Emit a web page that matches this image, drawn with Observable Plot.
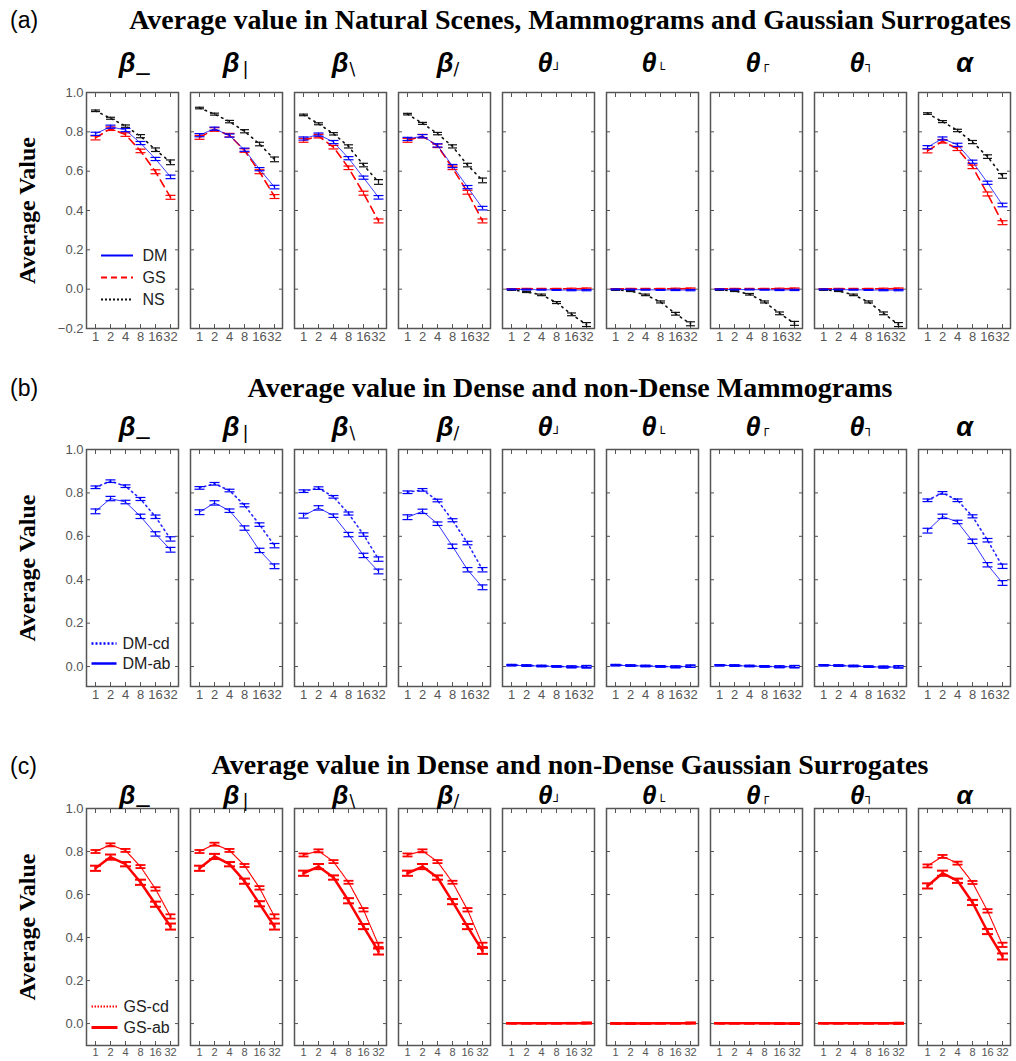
<!DOCTYPE html>
<html><head><meta charset="utf-8">
<script src="https://cdn.jsdelivr.net/npm/d3@7"></script>
<script src="https://cdn.jsdelivr.net/npm/@observablehq/plot@0.6"></script>
<style>
body{margin:0;background:#fff;}
#wrap{position:relative;width:1016px;height:1061px;overflow:hidden;background:#fff;}
.tag{position:absolute;left:10px;font-family:"Liberation Sans",Arial,sans-serif;font-size:23px;line-height:30px;color:#000;}
.ttl{position:absolute;left:0;width:1140px;text-align:center;font-family:"Liberation Serif","Times New Roman",serif;font-weight:bold;font-size:28px;line-height:30px;color:#000;white-space:nowrap;}
.plot{position:absolute;left:0;}
.plot g[aria-label="x-axis tick label"], .plot g[aria-label="y-axis tick label"]{font-size:13px;}
.secC g[aria-label="x-axis tick label"]{font-size:11px;}
</style></head><body><div id="wrap"></div>
<script>
// ---------------- data ----------------
const scaleLabels = ["1","2","4","8","16","32"];
const paramKeys = ["b_","b|","b\\","b/","t1","t2","t3","t4","a"];
const greek = ["β","β","β","β","θ","θ","θ","θ","α"];
const subs = ["_","|","\\","/","┘","└","┌","┐",""];
const isTheta = [false,false,false,false,true,true,true,true,false];

// (a) Natural scenes (NS), mammograms (DM), Gaussian surrogates (GS)
const nsA = [
  [0.907,0.869,0.829,0.778,0.709,0.645],
  [0.921,0.890,0.852,0.803,0.738,0.660],
  [0.886,0.841,0.790,0.726,0.631,0.545],
  [0.890,0.843,0.791,0.726,0.631,0.553],
  [-0.003,-0.014,-0.029,-0.068,-0.128,-0.180],
  [-0.003,-0.009,-0.029,-0.065,-0.125,-0.176],
  [-0.003,-0.009,-0.026,-0.065,-0.123,-0.174],
  [-0.003,-0.009,-0.029,-0.065,-0.123,-0.180],
  [0.893,0.852,0.807,0.748,0.674,0.576]
];
const dmA = [
  [0.790,0.826,0.809,0.743,0.662,0.571],
  [0.783,0.816,0.781,0.709,0.610,0.519],
  [0.766,0.786,0.748,0.666,0.567,0.467],
  [0.764,0.778,0.731,0.626,0.519,0.412],
  [-0.001,-0.002,-0.003,-0.004,-0.005,-0.005],
  [-0.001,-0.002,-0.003,-0.004,-0.004,-0.005],
  [-0.001,-0.002,-0.002,-0.003,-0.004,-0.004],
  [-0.001,-0.002,-0.003,-0.004,-0.005,-0.005],
  [0.722,0.766,0.734,0.648,0.541,0.428]
];
const gsA = [
  [0.769,0.816,0.786,0.703,0.597,0.467],
  [0.772,0.812,0.783,0.705,0.597,0.471],
  [0.757,0.778,0.722,0.617,0.488,0.347],
  [0.757,0.778,0.729,0.617,0.493,0.347],
  [0.001,0.002,0.002,0.002,0.002,0.003],
  [0.001,0.002,0.002,0.002,0.002,0.003],
  [0.001,0.002,0.002,0.002,0.002,0.003],
  [0.001,0.002,0.002,0.002,0.002,0.003],
  [0.703,0.752,0.714,0.622,0.484,0.338]
];
const nsErrA = [0.004,0.005,0.006,0.008,0.009,0.012];
const dmErrA = [0.008,0.008,0.008,0.008,0.008,0.009];
const gsErrA = [0.010,0.009,0.009,0.009,0.010,0.010];
const nsErrThA = [0.003,0.003,0.004,0.005,0.007,0.010];
const dmErrThA = [0.002,0.002,0.002,0.002,0.003,0.003];
const gsErrThA = [0.002,0.002,0.002,0.002,0.003,0.003];

// (b) Dense (cd) vs non-dense (ab) mammograms
const dmCdB = [
  [0.826,0.854,0.831,0.772,0.690,0.588],
  [0.823,0.842,0.811,0.743,0.654,0.557],
  [0.808,0.822,0.782,0.705,0.608,0.495],
  [0.803,0.814,0.765,0.674,0.569,0.446],
  [0.007,0.005,0.003,0.001,-0.001,0.000],
  [0.007,0.005,0.003,0.001,-0.001,0.002],
  [0.006,0.005,0.003,0.001,-0.001,0.000],
  [0.006,0.005,0.003,0.000,-0.002,-0.001],
  [0.766,0.800,0.766,0.692,0.582,0.462]
];
const dmAbB = [
  [0.715,0.774,0.758,0.692,0.611,0.538],
  [0.711,0.754,0.718,0.638,0.535,0.462],
  [0.695,0.731,0.695,0.608,0.512,0.438],
  [0.688,0.715,0.658,0.554,0.446,0.365],
  [0.006,0.004,0.002,0.000,-0.002,-0.002],
  [0.006,0.004,0.002,0.000,-0.002,0.001],
  [0.006,0.004,0.002,0.000,-0.001,-0.001],
  [0.006,0.004,0.002,-0.001,-0.003,-0.002],
  [0.626,0.692,0.666,0.577,0.469,0.385]
];
const cdErrB = [0.006,0.006,0.006,0.007,0.008,0.010];
const abErrB = [0.011,0.010,0.008,0.010,0.010,0.011];
const cdErrThB = [0.003,0.003,0.003,0.003,0.004,0.005];
const abErrThB = [0.003,0.003,0.003,0.003,0.004,0.005];

// (c) Dense (cd) vs non-dense (ab) Gaussian surrogates
const gsCdC = [
  [0.800,0.831,0.805,0.730,0.626,0.498],
  [0.800,0.834,0.805,0.735,0.631,0.498],
  [0.784,0.803,0.753,0.657,0.529,0.366],
  [0.784,0.803,0.753,0.657,0.529,0.366],
  [0.002,0.002,0.002,0.002,0.002,0.003],
  [0.002,0.002,0.002,0.002,0.002,0.003],
  [0.002,0.002,0.002,0.002,0.001,0.001],
  [0.002,0.002,0.002,0.002,0.002,0.002],
  [0.733,0.777,0.746,0.656,0.524,0.366]
];
const gsAbC = [
  [0.722,0.774,0.741,0.657,0.555,0.451],
  [0.722,0.777,0.741,0.662,0.557,0.451],
  [0.699,0.730,0.679,0.571,0.451,0.335],
  [0.699,0.730,0.679,0.567,0.451,0.338],
  [0.001,0.001,0.001,0.001,0.002,0.002],
  [0.000,0.000,0.000,0.001,0.001,0.002],
  [0.001,0.001,0.001,0.001,0.000,0.000],
  [0.001,0.001,0.001,0.001,0.001,0.001],
  [0.640,0.699,0.664,0.563,0.428,0.312]
];
const cdErrC = [0.007,0.007,0.007,0.007,0.008,0.010];
const abErrC = [0.012,0.012,0.010,0.012,0.012,0.014];
const cdErrThC = [0.001,0.001,0.001,0.001,0.001,0.002];
const abErrThC = [0.001,0.001,0.001,0.001,0.001,0.002];

const yTicksA = [-0.2,0,0.2,0.4,0.6,0.8,1.0];
const yTicksBC = [0,0.2,0.4,0.6,0.8,1.0];

// ---------------- helpers ----------------
function buildRows(list) {
  const rows = [];
  for (const s of list) paramKeys.forEach((p, i) => scaleLabels.forEach((sc, j) =>
    rows.push({param: p, scale: sc, series: s.name, value: s.vals[i][j], err: (isTheta[i] ? s.errsTh : s.errs)[j]})));
  return rows;
}
const SANS = "Liberation Sans, Arial, sans-serif";
const SERIF = "Liberation Serif, Times New Roman, serif";
const AX = "#555";
// header offsets [baseDx, subDx, subDy, subSize]
const hdr = [
  [3, 1, -3, 26],
  [3, 3, 6, 18],
  [8, 1, 6, 17],
  [9, 0, 6, 17],
  [4, 1, 6, 13],
  [4, 1, 6, 13],
  [4, 1, 1, 13],
  [4, 1, 1, 13],
  [0, 0, 0, 0]
];
function headerMarks(dy0, size) {
  const m = [];
  paramKeys.forEach((k, i) => {
    const [bdx, sdx, sdy, ss] = hdr[i];
    m.push(Plot.text([k], {fx: d => d, text: () => greek[i], frameAnchor: "top", lineAnchor: "middle", dy: dy0, dx: bdx,
      textAnchor: subs[i] ? "end" : "middle", fontSize: size, fontWeight: "bold", fontStyle: "italic", fontFamily: SANS, fill: "#000"}));
    if (subs[i]) m.push(Plot.text([k], {fx: d => d, text: () => subs[i], frameAnchor: "top", lineAnchor: "middle", dy: dy0 + sdy, dx: bdx + sdx,
      textAnchor: "start", fontSize: ss, fontFamily: "DejaVu Sans, " + SANS, fill: "#000"}));
  });
  return m;
}
const lineSym = (half) => ({draw(ctx) { ctx.moveTo(-half, 0); ctx.lineTo(half, 0); }});
function legendMarks(items, lineDx, half, textDx) {
  const m = [];
  for (const it of items) {
    m.push(Plot.dot([paramKeys[0]], {fx: d => d, frameAnchor: "bottom-left", dx: lineDx, dy: it.dy, symbol: lineSym(half),
      fill: "none", stroke: it.color, strokeWidth: it.w, strokeDasharray: it.dash || null}));
    m.push(Plot.text([paramKeys[0]], {fx: d => d, text: () => it.label, frameAnchor: "bottom-left", lineAnchor: "middle", dx: textDx, dy: it.dy,
      textAnchor: "start", fontSize: 16, fontFamily: SANS, fill: "#222"}));
  }
  return m;
}
function seriesMarks(rows, name, color, lineOpt, errW, capHalf) {
  const f = d => d.series === name;
  const cap = lineSym(capHalf);
  return [
    Plot.line(rows, {filter: f, fx: "param", x: "scale", y: "value", stroke: color, ...lineOpt}),
    Plot.ruleX(rows, {filter: f, fx: "param", x: "scale", y1: d => d.value - d.err, y2: d => d.value + d.err, stroke: color, strokeWidth: errW}),
    Plot.dot(rows, {filter: f, fx: "param", x: "scale", y: d => d.value - d.err, symbol: cap, fill: "none", stroke: color, strokeWidth: errW}),
    Plot.dot(rows, {filter: f, fx: "param", x: "scale", y: d => d.value + d.err, symbol: cap, fill: "none", stroke: color, strokeWidth: errW})
  ];
}
function frameAxes(yTicks) {
  return [
    Plot.frame({stroke: AX, strokeWidth: 1.5}),
    Plot.axisY({ticks: yTicks, anchor: "left", tickSize: 4, dx: 4, fill: "none", stroke: AX, facetAnchor: null, label: null}),
    Plot.axisY({ticks: yTicks, anchor: "right", tickSize: 4, dx: -4, fill: "none", stroke: AX, facetAnchor: null, label: null}),
    Plot.axisY({ticks: yTicks, anchor: "left", tickSize: 0, tickPadding: 3, tickFormat: d3.format(".1f"), fill: AX, fontFamily: SANS, facetAnchor: "left", label: null}),
    Plot.axisX({anchor: "top", tickSize: 4, dy: 4, fill: "none", stroke: AX, facetAnchor: null, label: null}),
    Plot.axisX({anchor: "bottom", tickSize: 4, dy: -4, fill: "none", stroke: AX, facetAnchor: null, label: null}),
    Plot.axisX({anchor: "bottom", tickSize: 0, tickPadding: 3, fill: AX, fontFamily: SANS, facetAnchor: null, label: null})
  ];
}
function yLabel() {
  return Plot.text([paramKeys[0]], {fx: d => d, text: () => "Average Value", frameAnchor: "left", textAnchor: "middle", lineAnchor: "middle",
    rotate: -90, dx: -59, fontSize: 24, fontWeight: "bold", fontFamily: SERIF, fill: "#000"});
}
function makePlot(cfg) {
  return Plot.plot({
    width: 1016, height: cfg.height, marginLeft: 82, marginRight: 1, marginTop: cfg.marginTop, marginBottom: cfg.marginBottom,
    style: {fontFamily: SANS, fontSize: "13px", background: "transparent", overflow: "visible"},
    fx: {domain: paramKeys, paddingInner: 0.114, paddingOuter: 0, axis: null, label: null},
    x: {type: "point", domain: scaleLabels, padding: 0.5},
    y: {domain: cfg.yDomain},
    marks: [...frameAxes(cfg.yTicks), ...cfg.marks, ...headerMarks(cfg.headerDy, cfg.headerSize || 27), yLabel(), ...cfg.legend]
  });
}

// ---------------- build ----------------
const wrap = document.getElementById("wrap");
function addDiv(cls, text, top) { const d = document.createElement("div"); d.className = cls; d.textContent = text; d.style.top = top + "px"; wrap.appendChild(d); }
function addPlot(p, top, extra) { const d = document.createElement("div"); d.className = "plot" + (extra ? " " + extra : ""); d.style.top = top + "px"; d.appendChild(p); wrap.appendChild(d); }

addDiv("tag", "(a)", 5);
addDiv("ttl", "Average value in Natural Scenes, Mammograms and Gaussian Surrogates", 5);
addDiv("tag", "(b)", 373);
addDiv("ttl", "Average value in Dense and non-Dense Mammograms", 373);
addDiv("tag", "(c)", 751);
addDiv("ttl", "Average value in Dense and non-Dense Gaussian Surrogates", 750);

const rowsA = buildRows([
  {name: "NS", vals: nsA, errs: nsErrA, errsTh: nsErrThA},
  {name: "DM", vals: dmA, errs: dmErrA, errsTh: dmErrThA},
  {name: "GS", vals: gsA, errs: gsErrA, errsTh: gsErrThA}]);
addPlot(makePlot({
  height: 310, marginTop: 52, marginBottom: 22, yDomain: [-0.2, 1.0], yTicks: yTicksA, headerDy: -29,
  marks: [
    ...seriesMarks(rowsA, "NS", "#111", {strokeWidth: 1.6, strokeDasharray: "1.5,4.5"}, 1.2, 4.5),
    ...seriesMarks(rowsA, "GS", "#ff0000", {strokeWidth: 1.6, strokeDasharray: "8,5"}, 1.2, 5),
    ...seriesMarks(rowsA, "DM", "#0000ff", {strokeWidth: 1, strokeOpacity: 0.75}, 1.2, 5)
  ],
  legend: legendMarks([
    {label: "DM", color: "#0000ff", w: 2, dy: -73},
    {label: "GS", color: "#ff0000", w: 2, dash: "6,4", dy: -51},
    {label: "NS", color: "#111", w: 2, dash: "2,2", dy: -29}
  ], 30.5, 16, 56)
}), 40);

const rowsB = buildRows([
  {name: "cd", vals: dmCdB, errs: cdErrB, errsTh: cdErrThB},
  {name: "ab", vals: dmAbB, errs: abErrB, errsTh: abErrThB}]);
addPlot(makePlot({
  height: 308, marginTop: 49, marginBottom: 22, yDomain: [-0.092, 1.0], yTicks: yTicksBC, headerDy: -22,
  marks: [
    ...seriesMarks(rowsB, "cd", "#0000ff", {strokeWidth: 1.6, strokeDasharray: "1.5,3.5", strokeOpacity: 0.85}, 1.2, 5),
    ...seriesMarks(rowsB, "ab", "#0000ff", {strokeWidth: 1, strokeOpacity: 0.8}, 1.2, 5)
  ],
  legend: legendMarks([
    {label: "DM-cd", color: "#0000ff", w: 2.5, dash: "2,2", dy: -43},
    {label: "DM-ab", color: "#0000ff", w: 2.5, dy: -23}
  ], 17.5, 12.5, 36)
}), 400);

const rowsC = buildRows([
  {name: "cd", vals: gsCdC, errs: cdErrC, errsTh: cdErrThC},
  {name: "ab", vals: gsAbC, errs: abErrC, errsTh: abErrThC}]);
addPlot(makePlot({
  height: 281, marginTop: 28, marginBottom: 16, yDomain: [-0.102, 1.0], yTicks: yTicksBC, headerDy: -13, headerSize: 26,
  marks: [
    ...seriesMarks(rowsC, "cd", "#ff0000", {strokeWidth: 1.2, strokeDasharray: "1,1"}, 1.8, 5),
    ...seriesMarks(rowsC, "ab", "#ff0000", {strokeWidth: 2.5}, 2, 5.5)
  ],
  legend: legendMarks([
    {label: "GS-cd", color: "#ff0000", w: 2, dash: "1.5,1.5", dy: -39},
    {label: "GS-ab", color: "#ff0000", w: 3, dy: -18}
  ], 18, 13, 37)
}), 780, "secC");
</script>
</body></html>
